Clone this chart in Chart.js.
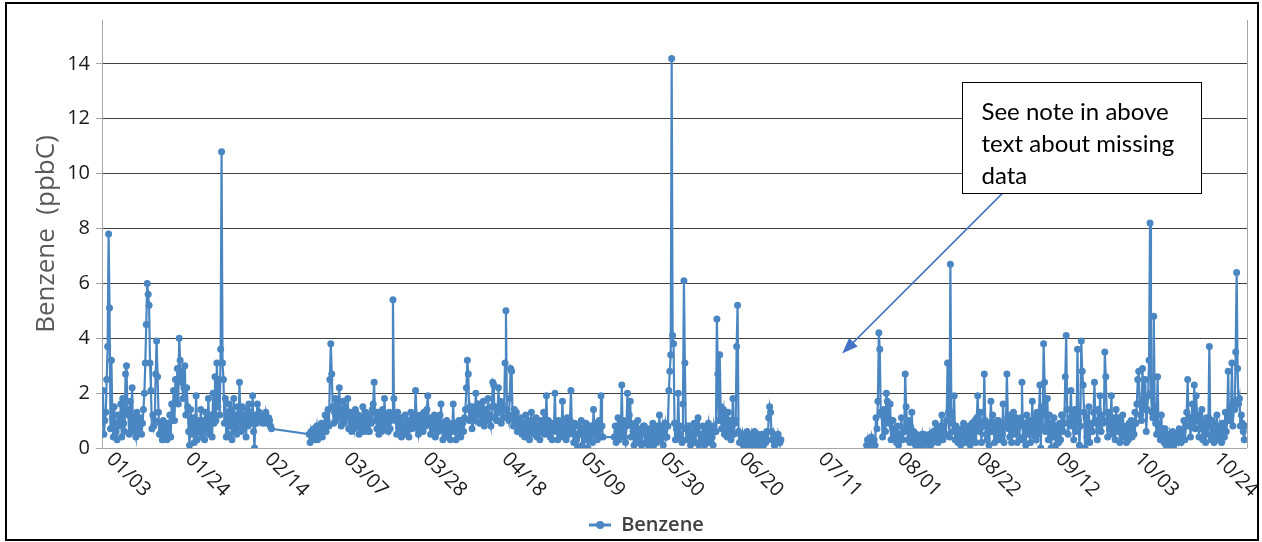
<!DOCTYPE html>
<html>
<head>
<meta charset="utf-8">
<title>Benzene (ppbC)</title>
<script src="https://cdn.jsdelivr.net/npm/chart.js@4.4.0/dist/chart.umd.min.js"></script>
<style>
  html, body { margin: 0; padding: 0; background: #fff; }
  #wrap { width: 1262px; height: 542px; }
</style>
</head>
<body>
<div id="wrap"><canvas id="benzene-chart" width="1262" height="542"></canvas></div>
<script>
// x = days since Jan 1, each inner array is one day of readings (every 6 hours)
const readingsPerDay = 4;
const tickDays = [2, 23, 44, 65, 86, 107, 128, 149, 170, 191, 212, 233, 254, 275, 296];
const tickLabels = ['01/03', '01/24', '02/14', '03/07', '03/28', '04/18', '05/09', '05/30',
                    '06/20', '07/11', '08/01', '08/22', '09/12', '10/03', '10/24'];

// Jan 1 - Feb 15
const janFebStart = 0;
const janFebValues = [
  [0.9,2.1,0.5,1.0],[1.3,2.5,3.7,7.8],[5.1,0.7,3.2,1.1],[0.4,1.5,0.9,0.6],[0.3,1.2,0.8,1.0],
  [1.6,0.4,1.8,0.9],[0.6,2.7,3.0,1.4],[1.2,0.5,1.7,0.8],[2.2,0.7,1.1,0.6],[0.4,1.3,0.9,0.7],
  [0.6,1.1,0.5,0.9],[1.4,2.0,3.1,4.5],[6.0,5.6,5.2,3.1],[2.1,0.7,1.2,0.8],[1.0,2.7,3.9,2.6],
  [1.3,0.5,0.9,0.6],[0.3,1.0,0.4,0.7],[0.6,0.3,0.9,0.5],[1.2,0.4,1.6,1.0],[2.1,1.0,2.5,1.7],
  [2.9,1.6,4.0,3.2],[2.4,2.8,1.8,2.2],[3.0,1.2,2.2,1.5],[0.6,0.1,1.4,0.9],[0.5,1.1,0.2,0.8],
  [1.9,0.3,1.0,0.6],[0.6,1.4,0.4,0.9],[1.0,0.3,1.3,0.7],[0.7,1.8,0.5,1.1],[1.2,0.4,2.0,0.9],
  [2.6,1.0,3.1,1.5],[2.5,1.2,3.6,10.8],[3.1,2.5,0.9,1.8],[0.4,1.3,0.5,1.6],[0.8,1.4,0.3,1.1],
  [1.8,0.6,1.2,0.5],[1.5,0.7,2.4,1.2],[0.6,1.5,0.7,1.0],[1.2,0.4,1.4,0.8],[1.6,1.0,1.3,0.9],
  [1.9,0.6,0.0,1.2],[0.9,1.6,1.1,1.3],[1.0,1.2,1.1,0.9],[1.2,1.0,1.3,1.1],[0.9,1.1,1.0,0.8],
  [0.7]
];

// Feb 25 - May 14
const marMayStart = 55;
const marMayValues = [
  [0.5,0.2,0.6,0.4],[0.4,0.7,0.3,0.6],[0.8,0.3,0.6,0.5],[0.5,0.9,0.4,0.7],[0.8,1.2,0.6,1.0],
  [1.4,0.8,2.5,3.8],[2.7,1.5,0.9,1.3],[1.8,1.0,1.6,1.2],[2.2,1.2,0.8,1.4],[1.7,0.9,1.5,1.1],
  [1.1,1.8,0.7,1.3],[1.3,0.6,1.2,0.9],[0.7,1.4,0.8,1.1],[1.2,0.5,1.1,0.8],[0.9,1.5,0.6,1.0],
  [1.3,0.7,1.0,0.6],[0.6,1.2,0.9,1.4],[1.6,2.4,1.0,1.3],[0.7,1.3,0.5,0.9],[1.1,0.6,1.4,0.8],
  [1.8,0.8,1.2,0.7],[0.6,1.3,0.7,1.0],[1.1,5.4,1.8,1.2],[1.0,0.5,1.3,0.8],[0.7,1.1,0.4,0.9],
  [0.9,0.5,1.2,0.7],[0.6,1.0,0.4,0.8],[1.3,0.7,1.1,0.9],[0.8,2.1,1.2,0.7],[0.5,1.0,0.7,1.2],
  [1.2,0.6,1.3,0.8],[0.8,1.4,1.9,1.0],[0.9,0.5,1.1,0.7],[0.7,1.2,0.4,0.9],[1.0,0.6,0.8,1.2],
  [1.6,0.7,0.3,0.9],[0.8,0.4,1.0,0.6],[0.5,0.9,0.3,0.7],[0.7,1.6,0.6,0.9],[0.3,0.8,0.5,1.0],
  [1.0,0.4,0.7,0.9],[0.6,1.1,1.4,2.2],[3.2,2.7,1.0,1.5],[1.3,0.7,1.5,1.1],[1.0,2.0,1.2,1.6],
  [1.6,0.9,1.4,1.2],[1.1,1.7,0.8,1.3],[1.4,1.0,1.8,1.2],[1.2,0.8,1.5,2.4],[2.3,1.1,1.5,1.0],
  [1.0,2.2,1.3,1.7],[0.9,1.6,1.1,1.4],[3.1,5.0,1.4,1.2],[1.0,1.8,2.9,2.8],[1.2,0.8,1.4,1.0],
  [1.3,0.6,1.0,0.8],[0.7,1.1,0.5,0.9],[0.9,0.4,1.2,0.7],[0.6,1.0,0.3,0.8],[1.3,0.7,0.9,0.5],
  [0.5,1.1,0.4,0.8],[0.8,0.3,1.0,0.6],[0.6,1.3,0.5,0.9],[1.9,0.7,1.0,0.5],[0.4,0.9,0.3,0.7],
  [0.8,2.0,0.6,0.9],[0.3,1.0,0.5,0.8],[0.7,1.7,0.4,0.9],[0.9,0.3,1.1,0.6],[0.5,1.0,2.1,0.8],
  [0.6,0.2,0.9,0.5],[0.3,0.0,0.8,0.5],[0.5,1.0,0.1,0.7],[0.7,0.3,0.9,0.6],[0.0,0.6,0.4,0.8],
  [0.8,0.2,1.4,0.6],[0.5,0.9,0.3,0.7],[1.0,0.4,1.9,0.8],[0.4]
];

// May 17 - Jun 30
const mayJunStart = 136;
const mayJunValues = [
  [0.4,0.8,0.2,0.6],[1.1,0.3,0.7,0.5],[2.3,0.5,1.0,0.4],[0.2,0.8,2.0,0.9],[1.2,1.7,0.4,0.8],
  [0.6,0.1,0.9,0.4],[0.3,1.0,0.2,0.6],[0.7,0.1,0.5,0.8],[0.8,0.2,0.6,0.4],[0.1,0.7,0.3,0.6],
  [0.5,0.9,0.1,0.7],[0.6,0.2,0.8,0.4],[1.2,0.3,0.6,0.8],[0.1,0.7,0.9,0.4],[0.4,0.8,2.1,2.8],
  [3.4,14.2,4.1,3.8],[0.9,0.3,0.7,0.5],[2.0,0.5,0.8,0.3],[0.2,1.6,6.1,3.1],[0.7,0.3,0.8,0.5],
  [0.8,0.1,0.6,0.4],[0.3,0.9,0.2,0.6],[0.7,1.1,0.1,0.5],[0.5,0.2,0.8,0.4],[0.1,0.6,0.3,0.7],
  [0.9,0.2,0.7,0.4],[0.4,0.1,0.8,0.6],[0.6,4.7,2.7,1.0],[3.4,1.5,0.7,1.2],[1.4,0.5,1.2,0.8],
  [0.4,1.3,0.6,1.0],[0.3,0.9,1.8,0.5],[0.9,1.0,3.7,5.2],[0.6,0.2,0.5,0.3],[0.5,0.1,0.4,0.2],
  [0.2,0.6,0.1,0.4],[0.4,0.2,0.5,0.3],[0.1,0.6,0.3,0.5],[0.5,0.1,0.4,0.2],[0.2,0.5,0.1,0.4],
  [0.4,0.2,0.6,0.3],[1.1,1.5,1.3,0.6],[0.3,0.5,0.1,0.4],[0.4,0.2,0.5,0.3],[0.2,0.3]
];

// Jul 23 - Oct 31
const julOctStart = 203;
const julOctValues = [
  [0.1,0.3,0.0,0.2],[0.2,0.4,0.1,0.3],[0.3,0.1,1.1,0.7],[1.7,4.2,3.6,1.3],[1.2,0.4,1.4,0.9],
  [0.6,2.0,1.7,1.1],[0.9,1.6,0.3,1.0],[1.0,0.4,0.7,0.5],[0.2,0.8,0.1,0.5],[0.5,1.1,0.3,0.7],
  [0.6,2.7,1.5,0.9],[0.3,1.0,0.2,0.6],[1.3,0.4,0.6,0.3],[0.1,0.5,0.2,0.4],[0.4,0.1,0.3,0.5],
  [0.2,0.5,0.1,0.3],[0.4,0.2,0.3,0.5],[0.1,0.4,0.2,0.6],[0.5,0.9,0.3,0.7],[0.2,0.6,0.4,0.8],
  [1.2,0.3,0.8,0.5],[0.5,1.0,3.1,1.3],[0.4,6.7,1.3,0.9],[0.6,1.9,0.3,0.8],[0.7,0.2,0.6,0.4],
  [0.1,0.7,0.3,0.9],[0.6,0.2,0.7,0.4],[0.3,0.8,0.1,0.6],[0.9,0.3,0.6,1.0],[0.2,1.1,1.9,0.7],
  [0.6,1.3,0.2,0.9],[0.8,2.7,1.0,0.5],[0.3,0.9,0.1,0.7],[1.7,0.6,1.2,0.8],[0.2,0.8,0.4,1.0],
  [1.0,0.3,0.9,0.6],[0.5,1.6,0.2,0.8],[0.9,2.7,1.1,0.7],[0.4,1.2,0.2,0.9],[1.3,0.5,0.8,1.1],
  [0.2,1.0,0.4,0.8],[1.1,2.4,0.3,0.9],[0.9,0.1,1.2,0.6],[0.5,1.0,0.2,0.8],[1.7,0.6,1.1,0.4],
  [0.3,1.3,0.5,1.0],[2.3,0.0,1.5,0.8],[3.8,2.4,0.6,1.2],[1.8,0.3,1.2,0.7],[0.0,0.9,0.4,1.1],
  [0.7,0.1,0.8,0.5],[0.2,0.9,0.3,1.2],[1.2,0.6,0.9,2.6],[4.1,1.4,0.5,0.9],[1.1,2.1,0.8,1.2],
  [0.3,1.4,0.6,1.0],[3.6,1.0,0.1,0.8],[3.9,2.8,2.3,1.3],[0.0,1.1,0.4,0.9],[1.5,0.2,0.9,0.6],
  [0.6,1.3,2.4,1.0],[0.9,0.3,1.4,0.7],[1.9,0.6,1.2,0.9],[1.0,3.5,2.6,1.3],[0.4,1.3,0.7,1.0],
  [1.9,0.5,1.1,0.8],[0.3,1.4,0.6,1.1],[0.9,0.2,1.0,0.6],[1.2,0.4,0.8,0.5],[0.2,0.7,0.3,0.9],
  [0.6,1.0,0.4,0.8],[0.5,1.3,0.9,1.6],[2.5,2.8,1.6,1.2],[1.0,2.9,1.8,1.4],[2.5,0.6,1.4,1.9],
  [3.2,8.2,2.0,1.3],[1.1,4.8,1.5,0.9],[0.5,2.6,0.9,0.6],[0.3,1.2,0.4,0.7],[0.2,0.7,0.1,0.5],
  [0.4,0.1,0.5,0.3],[0.2,0.6,0.1,0.4],[0.4,0.2,0.5,0.3],[0.7,0.3,0.2,0.5],[0.6,1.0,0.3,0.8],
  [1.3,2.5,0.8,1.1],[0.4,1.1,1.6,0.9],[2.3,0.7,1.9,1.2],[1.0,0.4,1.2,0.7],[1.4,0.3,0.9,0.6],
  [0.2,1.1,0.5,0.8],[3.7,0.8,0.3,1.0],[0.9,0.2,0.7,0.5],[1.2,0.4,0.3,0.8],[0.6,0.2,0.9,0.5],
  [0.4,1.3,0.6,1.0],[2.8,1.0,1.5,1.2],[3.1,0.8,1.7,1.4],[3.5,6.4,2.9,1.6],[1.8,0.8,1.2,0.9],
  [0.6,0.3,0.8]
];

const lineColor = '#4a86c2';

// turn the day arrays into {x, y} points
function addSegment(points, start, days) {
  days.forEach((readings, d) => {
    readings.forEach((v, k) => points.push({ x: start + d + k / readingsPerDay, y: v }));
  });
}

const points = [];
addSegment(points, janFebStart, janFebValues);
addSegment(points, marMayStart, marMayValues);
addSegment(points, mayJunStart, mayJunValues);
points.push({ x: 190, y: null }); // missing data in July, no line drawn
addSegment(points, julOctStart, julOctValues);

// legend marker: short line with a dot
const legendIcon = document.createElement('canvas');
legendIcon.width = 22;
legendIcon.height = 10;
const ic = legendIcon.getContext('2d');
ic.strokeStyle = lineColor;
ic.lineWidth = 3;
ic.beginPath(); ic.moveTo(0, 5); ic.lineTo(22, 5); ic.stroke();
ic.fillStyle = lineColor;
ic.beginPath(); ic.arc(11, 5, 4, 0, Math.PI * 2); ic.fill();

// note box position in data units
const noteBox = { x1: 228.4, x2: 291.8, y1: 13.33, y2: 9.3 };
const noteLines = ['See note in above', 'text about missing', 'data'];
const arrowFrom = { x: 239.2, y: 9.3 };
const arrowTo = { x: 196.5, y: 3.44 };

const extras = {
  id: 'extras',
  afterDraw(chart) {
    const ctx = chart.ctx;
    const xs = chart.scales.x;
    const ys = chart.scales.y;
    const area = chart.chartArea;
    ctx.save();

    // right edge of the plot
    ctx.strokeStyle = '#a6a6a6';
    ctx.lineWidth = 1;
    ctx.beginPath();
    ctx.moveTo(Math.round(area.right) + 0.5, area.top);
    ctx.lineTo(Math.round(area.right) + 0.5, area.bottom);
    ctx.stroke();

    // slanted date labels
    ctx.font = '20px "Open Sans"';
    ctx.fillStyle = '#1a1a1a';
    ctx.textAlign = 'left';
    ctx.textBaseline = 'middle';
    tickDays.forEach((d, i) => {
      const px = xs.getPixelForValue(d);
      ctx.save();
      ctx.translate(px, area.bottom + 8);
      ctx.rotate(Math.PI / 4);
      ctx.fillText(tickLabels[i], 0, 0);
      ctx.restore();
    });

    // arrow to the gap
    const ax1 = xs.getPixelForValue(arrowFrom.x), ay1 = ys.getPixelForValue(arrowFrom.y);
    const ax2 = xs.getPixelForValue(arrowTo.x), ay2 = ys.getPixelForValue(arrowTo.y);
    const ang = Math.atan2(ay2 - ay1, ax2 - ax1);
    ctx.strokeStyle = '#4472c4';
    ctx.fillStyle = '#4472c4';
    ctx.lineWidth = 1.5;
    ctx.beginPath();
    ctx.moveTo(ax1, ay1);
    ctx.lineTo(ax2 - 12 * Math.cos(ang), ay2 - 12 * Math.sin(ang));
    ctx.stroke();
    ctx.beginPath();
    ctx.moveTo(ax2, ay2);
    ctx.lineTo(ax2 - 16 * Math.cos(ang) + 6 * Math.sin(ang), ay2 - 16 * Math.sin(ang) - 6 * Math.cos(ang));
    ctx.lineTo(ax2 - 16 * Math.cos(ang) - 6 * Math.sin(ang), ay2 - 16 * Math.sin(ang) + 6 * Math.cos(ang));
    ctx.closePath();
    ctx.fill();

    // note box
    const bx1 = Math.round(xs.getPixelForValue(noteBox.x1)) + 0.5;
    const bx2 = Math.round(xs.getPixelForValue(noteBox.x2)) + 0.5;
    const by1 = Math.round(ys.getPixelForValue(noteBox.y1)) + 0.5;
    const by2 = Math.round(ys.getPixelForValue(noteBox.y2)) + 0.5;
    ctx.fillStyle = '#fff';
    ctx.fillRect(bx1, by1, bx2 - bx1, by2 - by1);
    ctx.strokeStyle = '#000';
    ctx.lineWidth = 1;
    ctx.strokeRect(bx1, by1, bx2 - bx1, by2 - by1);
    ctx.fillStyle = '#000';
    ctx.font = '24px Lato';
    ctx.textBaseline = 'alphabetic';
    noteLines.forEach((t, i) => ctx.fillText(t, bx1 + 19, by1 + 37 + i * 32));

    // outer frame
    ctx.strokeStyle = '#000';
    ctx.lineWidth = 2;
    ctx.strokeRect(6, 3, 1252, 537);
    ctx.restore();
  }
};

const ctx = document.getElementById('benzene-chart').getContext('2d');
new Chart(ctx, {
  type: 'line',
  data: {
    datasets: [{
      label: 'Benzene',
      data: points,
      borderColor: lineColor,
      backgroundColor: lineColor,
      borderWidth: 2.2,
      pointRadius: 3.5,
      pointBorderWidth: 0,
      pointHoverRadius: 0,
      tension: 0,
      spanGaps: false
    }]
  },
  options: {
    responsive: false,
    animation: false,
    devicePixelRatio: 1,
    layout: { padding: { left: 46, right: 15, top: 20, bottom: -3 } },
    plugins: {
      tooltip: { enabled: false },
      legend: {
        position: 'bottom',
        labels: {
          usePointStyle: true,
          pointStyleWidth: 22,
          padding: 5,
          color: '#404040',
          font: { family: '"Open Sans"', size: 20, weight: 600 },
          generateLabels(chart) {
            const items = Chart.defaults.plugins.legend.labels.generateLabels(chart);
            items.forEach(item => { item.pointStyle = legendIcon; });
            return items;
          }
        }
      }
    },
    scales: {
      x: {
        type: 'linear',
        min: 0,
        max: 304,
        grid: { display: false },
        border: { display: false },
        ticks: { display: false },
        afterFit(scale) { scale.height = 62; }
      },
      y: {
        min: 0,
        max: 15.6,
        grid: {
          color: (c) => (c.tick && c.tick.value === 0 ? '#a6a6a6' : '#404040'),
          tickColor: '#a6a6a6',
          tickLength: 6
        },
        border: { color: '#a6a6a6' },
        ticks: {
          stepSize: 2,
          includeBounds: false,
          padding: 6,
          color: '#1a1a1a',
          font: { family: '"Open Sans"', size: 20 }
        },
        title: {
          display: true,
          text: 'Benzene  (ppbC)',
          color: '#595959',
          padding: { top: -15, bottom: 0 },
          font: { family: '"Open Sans"', size: 26 }
        },
        afterFit(scale) { scale.width = 56; }
      }
    }
  },
  plugins: [extras]
});
</script>
</body>
</html>
